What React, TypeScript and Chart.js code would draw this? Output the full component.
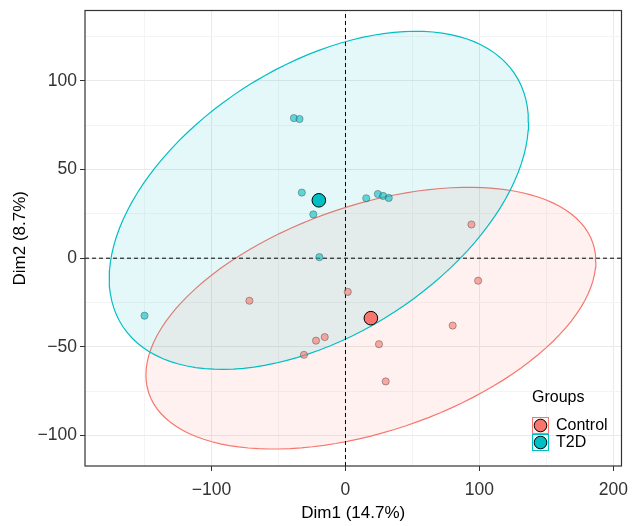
import React, { useEffect, useRef } from "react";
import { Chart, registerables } from "chart.js";

Chart.register(...registerables);

// ---- data ----
const groups = ["Control", "T2D"];
const groupColors = ["#F8766D", "#00BFC4"];
const controlX = [-71.7, 1.7, 94, 99, 80, 25, 30, -15.5, -22, -31];
const controlY = [-24, -19, 19, -12.7, -38, -48.5, -69.5, -44.5, -46.5, -54.5];
const t2dX = [-38.5, -34.3, -32.6, -24, -19.5, 15.5, 24.2, 28.1, 32.3, -150];
const t2dY = [79, 78.5, 37, 24.7, 0.6, 33.8, 36.2, 35.1, 34, -32.4];
const xMajorTicks = [-100, 0, 100, 200];
const xMinorTicks = [-150, -50, 50, 150];
const yMajorTicks = [-100, -50, 0, 50, 100];
const yMinorTicks = [-75, -25, 25, 75, 125];
const xLimits = [-194.4, 206];
const yLimits = [-117.2, 139.7];
const ellipseLevel = 0.95;
const xTitle = "Dim1 (14.7%)";
const yTitle = "Dim2 (8.7%)";
const legendTitle = "Groups";

const FONT = '"Liberation Sans", Arial, Helvetica, sans-serif';

function rgba(hex: string, a: number) {
  const n = parseInt(hex.slice(1), 16);
  return `rgba(${(n >> 16) & 255},${(n >> 8) & 255},${n & 255},${a})`;
}

function mean(a: number[]) {
  return a.reduce((s, v) => s + v, 0) / a.length;
}

// stat_ellipse(type = "norm") equivalent
function ellipsePoints(xs: number[], ys: number[], level: number, segments = 120) {
  const n = xs.length;
  const mx = mean(xs);
  const my = mean(ys);
  let sxx = 0, syy = 0, sxy = 0;
  for (let i = 0; i < n; i++) {
    sxx += (xs[i] - mx) ** 2;
    syy += (ys[i] - my) ** 2;
    sxy += (xs[i] - mx) * (ys[i] - my);
  }
  sxx /= n - 1; syy /= n - 1; sxy /= n - 1;
  const a = Math.sqrt(sxx);
  const b = sxy / a;
  const c = Math.sqrt(syy - b * b);
  const dfd = n - 1;
  const qf = (dfd / 2) * (Math.pow(1 - level, -2 / dfd) - 1);
  const r = Math.sqrt(2 * qf);
  const pts: { x: number; y: number }[] = [];
  for (let k = 0; k <= segments; k++) {
    const t = (2 * Math.PI * k) / segments;
    const u = Math.cos(t), v = Math.sin(t);
    pts.push({ x: mx + r * u * a, y: my + r * (u * b + v * c) });
  }
  return pts;
}

const fmt = (v: number) => (v < 0 ? "\u2212" + Math.abs(v) : String(v));

export default function App() {
  const ref = useRef<HTMLCanvasElement | null>(null);

  useEffect(() => {
    if (!ref.current) return;
    const groupX = [controlX, t2dX];
    const groupY = [controlY, t2dY];

    const ellipseSets = groups.map((g, i) => ({
      type: "line" as const,
      label: g + " ellipse",
      data: ellipsePoints(groupX[i], groupY[i], ellipseLevel),
      borderColor: groupColors[i],
      borderWidth: 1.2,
      backgroundColor: rgba(groupColors[i], 0.1),
      fill: "shape",
      pointRadius: 0,
      tension: 0,
      order: 10 - i,
    }));

    const refLines = [
      { type: "line" as const, label: "v0", data: [{ x: 0, y: yLimits[0] }, { x: 0, y: yLimits[1] }] },
      { type: "line" as const, label: "h0", data: [{ x: xLimits[0], y: 0 }, { x: xLimits[1], y: 0 }] },
    ].map((d) => ({
      ...d,
      borderColor: "#000",
      borderWidth: 1,
      borderDash: [4, 3],
      pointRadius: 0,
      fill: false,
      order: 5,
    }));

    const pointSets = groups.map((g, i) => ({
      type: "scatter" as const,
      label: g,
      data: groupX[i].map((x, k) => ({ x, y: groupY[i][k] })),
      backgroundColor: rgba(groupColors[i], 0.6),
      borderColor: "rgba(70,70,70,0.45)",
      borderWidth: 1,
      pointRadius: 3.6,
      order: 3 - i,
    }));

    const centroidSets = groups.map((g, i) => ({
      type: "scatter" as const,
      label: g + " mean",
      data: [{ x: mean(groupX[i]), y: mean(groupY[i]) }],
      backgroundColor: groupColors[i],
      borderColor: "#000",
      borderWidth: 1,
      pointRadius: 6.8,
      order: 0,
    }));

    const frame = {
      id: "frame",
      afterDraw(chart: any) {
        const { ctx, chartArea: a } = chart;
        ctx.save();
        ctx.strokeStyle = "#333";
        ctx.lineWidth = 1.2;
        ctx.strokeRect(a.left, a.top, a.right - a.left, a.bottom - a.top);
        // legend
        ctx.font = `16px ${FONT}`;
        ctx.textBaseline = "middle";
        ctx.textAlign = "left";
        ctx.fillStyle = "#000";
        ctx.fillText(legendTitle, 532, 398);
        groups.forEach((g, i) => {
          const x0 = 532.5, y0 = 417.5 + i * 17, s = 16;
          ctx.fillStyle = "#fff";
          ctx.fillRect(x0, y0, s, s);
          ctx.fillStyle = rgba(groupColors[i], 0.1);
          ctx.fillRect(x0, y0, s, s);
          ctx.strokeStyle = groupColors[i];
          ctx.lineWidth = 1;
          ctx.strokeRect(x0, y0, s, s);
          ctx.beginPath();
          ctx.arc(x0 + s / 2, y0 + s / 2, 6.3, 0, Math.PI * 2);
          ctx.fillStyle = groupColors[i];
          ctx.fill();
          ctx.strokeStyle = "#000";
          ctx.stroke();
          ctx.fillStyle = "#000";
          ctx.fillText(g, 556, y0 + s / 2 + 0.5);
        });
        ctx.restore();
      },
    };

    const isMajor = (list: number[], v: number) => list.includes(v);

    const chart = new Chart(ref.current, {
      type: "scatter",
      data: { datasets: [...ellipseSets, ...refLines, ...pointSets, ...centroidSets] as any },
      options: {
        responsive: false,
        animation: false,
        devicePixelRatio: 1,
        layout: { padding: { top: 10.5, right: 10.5, left: 0, bottom: 0 } },
        plugins: { legend: { display: false }, tooltip: { enabled: false } },
        scales: {
          x: {
            type: "linear",
            min: xLimits[0],
            max: xLimits[1],
            afterBuildTicks: (s: any) => {
              s.ticks = [...xMajorTicks, ...xMinorTicks].sort((p, q) => p - q).map((v) => ({ value: v }));
            },
            afterFit: (s: any) => {
              s.height = 60;
              s.paddingLeft = 0;
              s.paddingRight = 0;
            },
            ticks: {
              autoSkip: false,
              maxRotation: 0,
              padding: 9,
              color: "#333",
              font: { family: FONT, size: 17.5 },
              callback: (v: any) => (isMajor(xMajorTicks, v) ? fmt(v) : ""),
            },
            grid: {
              color: (c: any) => (isMajor(xMajorTicks, c.tick?.value) ? "#e9e9e9" : "#f4f4f4"),
              tickColor: (c: any) => (isMajor(xMajorTicks, c.tick?.value) ? "#333" : "rgba(0,0,0,0)"),
              tickLength: 5,
              lineWidth: 1,
            },
            border: { display: false },
            title: {
              display: true,
              text: xTitle,
              color: "#000",
              font: { family: FONT, size: 17 },
              padding: { top: 0, bottom: 2 },
            },
          },
          y: {
            type: "linear",
            min: yLimits[0],
            max: yLimits[1],
            afterBuildTicks: (s: any) => {
              s.ticks = [...yMajorTicks, ...yMinorTicks].sort((p, q) => p - q).map((v) => ({ value: v }));
            },
            afterFit: (s: any) => {
              s.width = 85;
              s.paddingTop = 0;
              s.paddingBottom = 0;
            },
            ticks: {
              autoSkip: false,
              padding: 3,
              color: "#333",
              font: { family: FONT, size: 17.5 },
              callback: (v: any) => (isMajor(yMajorTicks, v) ? fmt(v) : ""),
            },
            grid: {
              color: (c: any) => (isMajor(yMajorTicks, c.tick?.value) ? "#e9e9e9" : "#f4f4f4"),
              tickColor: (c: any) => (isMajor(yMajorTicks, c.tick?.value) ? "#333" : "rgba(0,0,0,0)"),
              tickLength: 5,
              lineWidth: 1,
            },
            border: { display: false },
            title: {
              display: true,
              text: yTitle,
              color: "#000",
              font: { family: FONT, size: 17 },
              padding: { top: 10, bottom: 0 },
            },
          },
        },
      },
      plugins: [frame],
    });
    return () => chart.destroy();
  }, []);

  return (
    <div style={{ position: "absolute", left: 0, top: 0, width: 632, height: 526, background: "#fff" }}>
      <canvas ref={ref} width={632} height={526} />
    </div>
  );
}
